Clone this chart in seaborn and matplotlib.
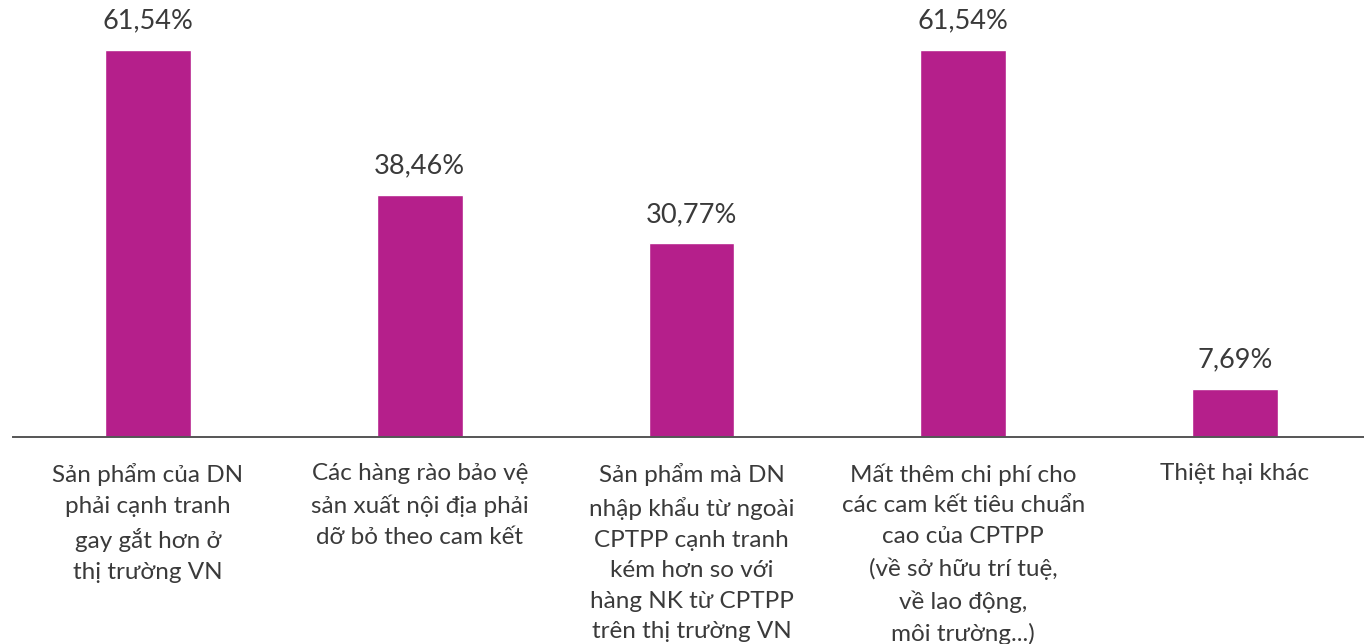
import matplotlib
matplotlib.use("Agg")
import matplotlib.pyplot as plt
import seaborn as sns
import pandas as pd

categories = [
    "Sản phẩm của DN\nphải cạnh tranh\ngay gắt hơn ở\nthị trường VN",
    "Các hàng rào bảo vệ\nsản xuất nội địa phải\ndỡ bỏ theo cam kết",
    "Sản phẩm mà DN\nnhập khẩu từ ngoài\nCPTPP cạnh tranh\nkém hơn so với\nhàng NK từ CPTPP\ntrên thị trường VN",
    "Mất thêm chi phí cho\ncác cam kết tiêu chuẩn\ncao của CPTPP\n(về sở hữu trí tuệ,\nvề lao động,\nmôi trường...)",
    "Thiệt hại khác",
]
values = [61.54, 38.46, 30.77, 61.54, 7.69]
value_labels = ["61,54%", "38,46%", "30,77%", "61,54%", "7,69%"]

sns.set_style("white")
plt.rcParams["font.family"] = ["Lato", "Liberation Sans", "DejaVu Sans"]

BAR = "#B51F8B"
TXT = "#3a3a3a"

W, H = 1364, 644
fig = plt.figure(figsize=(W / 100, H / 100), dpi=100)
ax = fig.add_axes([13 / W, 1 - 437 / H, 1 - 13 / W, 437 / H])

df = pd.DataFrame({"cat": categories, "val": values})
sns.barplot(data=df, x="cat", y="val", color=BAR, saturation=1, width=0.316, ax=ax, errorbar=None)

ax.set_xlim(-0.497, 4.475)
ax.set_ylim(0, 69.49)

ax.bar_label(ax.containers[0], labels=value_labels, padding=12, fontsize=19.5, color=TXT)

ax.set_xlabel("")
ax.set_ylabel("")
ax.set_yticks([])
ax.set_xticks(range(len(categories)))
ax.set_xticklabels(categories, fontsize=17.5, color=TXT, linespacing=1.56)
ax.tick_params(axis="x", length=0, pad=19)

for s in ["top", "left", "right"]:
    ax.spines[s].set_visible(False)
ax.spines["bottom"].set_color("#555555")
ax.spines["bottom"].set_linewidth(1.4)

fig.savefig("out.png", dpi=100, facecolor="white")
